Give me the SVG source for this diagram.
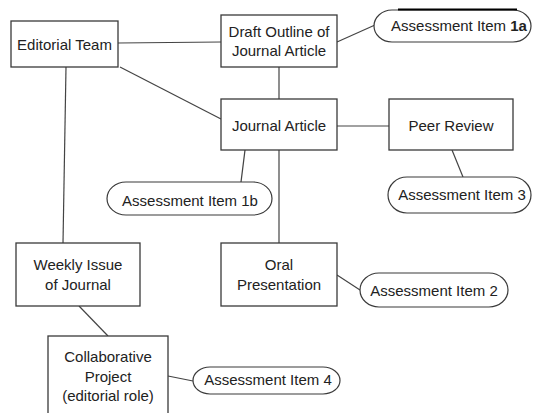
<svg xmlns="http://www.w3.org/2000/svg" width="533" height="413" viewBox="0 0 533 413">
<style>
.box{fill:#fff;stroke:#3a3a3a;stroke-width:1.3}
.pill{fill:#fff;stroke:#3a3a3a;stroke-width:1.2}
.ln{stroke:#444;stroke-width:1.2;fill:none}
text{font-family:"Liberation Sans",Arial,sans-serif;font-size:15px;fill:#222;text-anchor:middle}
</style>
<rect width="533" height="413" fill="#fff"/>
<g id="connectors">
<line class="ln" x1="118" y1="43" x2="221" y2="42"/>
<line class="ln" x1="120" y1="67" x2="221" y2="119"/>
<line class="ln" x1="66" y1="67" x2="63" y2="243"/>
<line class="ln" x1="279" y1="67" x2="279" y2="99"/>
<line class="ln" x1="337" y1="42" x2="375" y2="25"/>
<line class="ln" x1="337" y1="126" x2="389" y2="126"/>
<line class="ln" x1="245" y1="150" x2="241" y2="182"/>
<line class="ln" x1="279" y1="150" x2="279" y2="243"/>
<line class="ln" x1="452" y1="150" x2="463" y2="177"/>
<line class="ln" x1="337" y1="275" x2="360" y2="290"/>
<line class="ln" x1="79" y1="306" x2="108" y2="336"/>
<line class="ln" x1="168" y1="376" x2="193" y2="381"/>
</g>
<g id="editorial-team"><rect class="box" x="11" y="21" width="107" height="46"/><text x="64.5" y="50">Editorial Team</text></g>
<g id="draft-outline"><rect class="box" x="221" y="15" width="116" height="52"/><text x="279" y="37">Draft Outline of</text><text x="279" y="56">Journal Article</text></g>
<g id="journal-article"><rect class="box" x="221" y="99" width="116" height="51"/><text x="279" y="131">Journal Article</text></g>
<g id="peer-review"><rect class="box" x="389" y="99" width="124" height="51"/><text x="451" y="131">Peer Review</text></g>
<g id="weekly-issue"><rect class="box" x="16" y="243" width="124" height="63"/><text x="78" y="270">Weekly Issue</text><text x="78" y="290">of Journal</text></g>
<g id="oral-presentation"><rect class="box" x="221" y="243" width="116" height="63"/><text x="279" y="270">Oral</text><text x="279" y="290">Presentation</text></g>
<g id="collaborative-project"><rect class="box" x="48" y="336" width="120" height="90"/><text x="108" y="362">Collaborative</text><text x="108" y="382">Project</text><text x="108" y="401">(editorial role)</text></g>
<g id="assessment-1a"><rect class="pill" x="374" y="10" width="157" height="32" rx="18" ry="16"/><line x1="398" y1="9.5" x2="517" y2="9.5" stroke="#000" stroke-width="2"/><text x="459" y="31">Assessment Item <tspan font-weight="bold">1a</tspan></text></g>
<g id="assessment-1b"><rect class="pill" x="107" y="182" width="165" height="33" rx="19" ry="16.5"/><text x="190" y="206">Assessment Item 1b</text></g>
<g id="assessment-3"><rect class="pill" x="388" y="177" width="143" height="36" rx="19" ry="18"/><text x="462" y="200">Assessment Item 3</text></g>
<g id="assessment-2"><rect class="pill" x="360" y="273" width="148" height="34" rx="19" ry="17"/><text x="434" y="296">Assessment Item 2</text></g>
<g id="assessment-4"><rect class="pill" x="193" y="367" width="147" height="27" rx="17" ry="13.5"/><text x="268" y="385">Assessment Item 4</text></g>
</svg>
